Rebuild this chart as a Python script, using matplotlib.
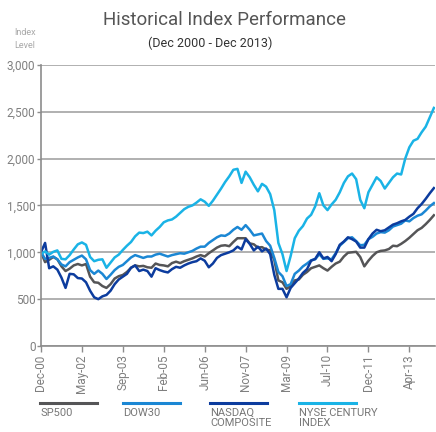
import matplotlib
matplotlib.use("Agg")
import matplotlib.pyplot as plt
from matplotlib.lines import Line2D

plt.rcParams['font.family'] = ['Roboto', 'DejaVu Sans']

# Index levels (Dec 2000 = 1000), sampled at regular steps along the category axis
sp500 = [1000, 895, 920, 950, 925, 850, 800, 825, 860, 875,
         860, 875, 740, 680, 675, 640, 620, 660, 720, 745,
         758, 790, 835, 860, 850, 855, 840, 835, 880, 865,
         860, 850, 885, 900, 885, 905, 920, 935, 955, 970,
         955, 990, 1020, 1050, 1070, 1075, 1065, 1110, 1150, 1150,
         1150, 1095, 1085, 1050, 1055, 1030, 1020, 920, 700, 680,
         610, 640, 700, 710, 760, 790, 830, 845, 860, 830,
         805, 845, 880, 900, 955, 995, 1000, 1005, 950, 850,
         910, 960, 1000, 1015, 1020, 1035, 1070, 1065, 1090, 1120,
         1155, 1195, 1235, 1260, 1300, 1345, 1395]

dow30 = [1000, 930, 940, 955, 925, 870, 850, 895, 920, 945,
         965, 925, 810, 770, 805, 770, 715, 760, 810, 845,
         865, 905, 945, 970, 955, 940, 955, 955, 975, 985,
         970, 955, 970, 980, 990, 985, 1000, 1015, 1040, 1060,
         1060, 1100, 1130, 1160, 1180, 1175, 1200, 1240, 1270, 1240,
         1290, 1240, 1180, 1190, 1200, 1120, 1070, 940, 790, 745,
         640, 660, 770, 805, 850, 880, 915, 925, 980, 930,
         935, 925, 990, 1070, 1110, 1150, 1160, 1120, 1075, 1080,
         1140, 1165, 1200, 1215, 1210, 1235, 1275, 1290, 1305, 1340,
         1330, 1365, 1390, 1405, 1445, 1490, 1525]

nasdaq = [1000, 1100, 830, 850, 815, 730, 620, 770, 765, 725,
          720, 680, 590, 520, 500, 530, 545, 590, 660, 710,
          740, 770, 835, 860, 800, 815, 800, 740, 830, 810,
          795, 785, 820, 845, 835, 860, 880, 895, 905, 935,
          910, 840, 880, 940, 970, 985, 1000, 1020, 1060, 1030,
          1140, 1090, 1020, 1060, 1010, 1040, 980, 760, 610, 610,
          520, 620, 670, 720, 780, 820, 910, 930, 1000, 935,
          950, 905, 980, 1080, 1115, 1160, 1140, 1115, 1050, 1050,
          1140, 1200, 1240, 1225, 1235, 1265, 1295, 1310, 1330, 1345,
          1380, 1410, 1470, 1515, 1570, 1630, 1685]

nyse = [980, 1010, 975, 1005, 1020, 930, 925, 970, 1030, 1085,
        1105, 1080, 950, 905, 920, 925, 835, 890, 945, 975,
        1025, 1070, 1110, 1170, 1210, 1205, 1220, 1180, 1230, 1270,
        1320, 1340, 1350, 1380, 1420, 1460, 1485, 1500, 1530, 1565,
        1540, 1495, 1550, 1615, 1680, 1750, 1810, 1880, 1890, 1740,
        1860, 1800, 1720, 1650, 1730, 1700, 1620, 1450, 1100, 980,
        800, 960, 1150, 1230, 1280, 1360, 1400, 1490, 1630, 1500,
        1450, 1510, 1560, 1640, 1740, 1810, 1840, 1780, 1560, 1470,
        1640, 1720, 1800, 1760, 1680, 1740, 1800, 1840, 1830, 2000,
        2120, 2190, 2210, 2280, 2340, 2440, 2540]

tick_labels = ["Dec-00", "May-02", "Sep-03", "Feb-05", "Jun-06",
               "Nov-07", "Mar-09", "Jul-10", "Dec-11", "Apr-13"]
tick_step = 10

series_names = ["SP500", "DOW30", "NASDAQ\nCOMPOSITE", "NYSE CENTURY\nINDEX"]
colors = ["#555557", "#1b87d4", "#0c3c9e", "#1ab3e6"]

fig = plt.figure(figsize=(4.36, 4.32), dpi=100)
ax = fig.add_axes([0.094, 0.199, 0.904, 0.651])

x = list(range(len(sp500)))
for vals, c in zip([sp500, dow30, nasdaq, nyse], colors):
    ax.plot(x, vals, color=c, linewidth=1.8, solid_joinstyle="round")

ax.set_xlim(0, 96.3)
ax.set_ylim(0, 3000)
ax.set_yticks(range(0, 3001, 500))
ax.set_yticklabels([f"{v:,}" for v in range(0, 3001, 500)])
ax.set_xticks([i * tick_step for i in range(len(tick_labels))])
ax.set_xticklabels(tick_labels, rotation=90)

ax.yaxis.grid(True, color="#a3a3a3", linewidth=1.2)
ax.set_axisbelow(True)
for s in ["top", "right"]:
    ax.spines[s].set_visible(False)
for s in ["left", "bottom"]:
    ax.spines[s].set_color("#8c8c8c")
    ax.spines[s].set_linewidth(1.2)
ax.tick_params(axis="y", length=3, width=1, color="#8c8c8c", pad=1,
               labelsize=8.5, labelcolor="#7f7f7f")
ax.tick_params(axis="x", length=4, width=1, color="#8c8c8c", pad=2,
               labelsize=8.5, labelcolor="#7f7f7f")

fig.text(0.514, 0.954, "Historical Index Performance", ha="center", va="center",
         fontsize=13.5, color="#555555")
fig.text(0.482, 0.899, "(Dec 2000 - Dec 2013)", ha="center", va="center",
         fontsize=9, color="#333333")
fig.text(0.057, 0.91, "Index\nLevel", ha="center", va="center",
         fontsize=6.5, color="#a8a8a8", linespacing=1.5)

# legend: line sample with label underneath
leg_x = [40, 123, 210, 299]
for lx, name, c in zip(leg_x, series_names, colors):
    x0 = lx / 436
    x1 = (lx + 57) / 436
    fig.add_artist(Line2D([x0, x1], [1 - 403 / 432] * 2, color=c, linewidth=2.2,
                          transform=fig.transFigure))
    fig.text(x0, 1 - 408 / 432, name, ha="left", va="top", fontsize=8,
             color="#777777", linespacing=1.0)

fig.savefig("out.png", dpi=100)
